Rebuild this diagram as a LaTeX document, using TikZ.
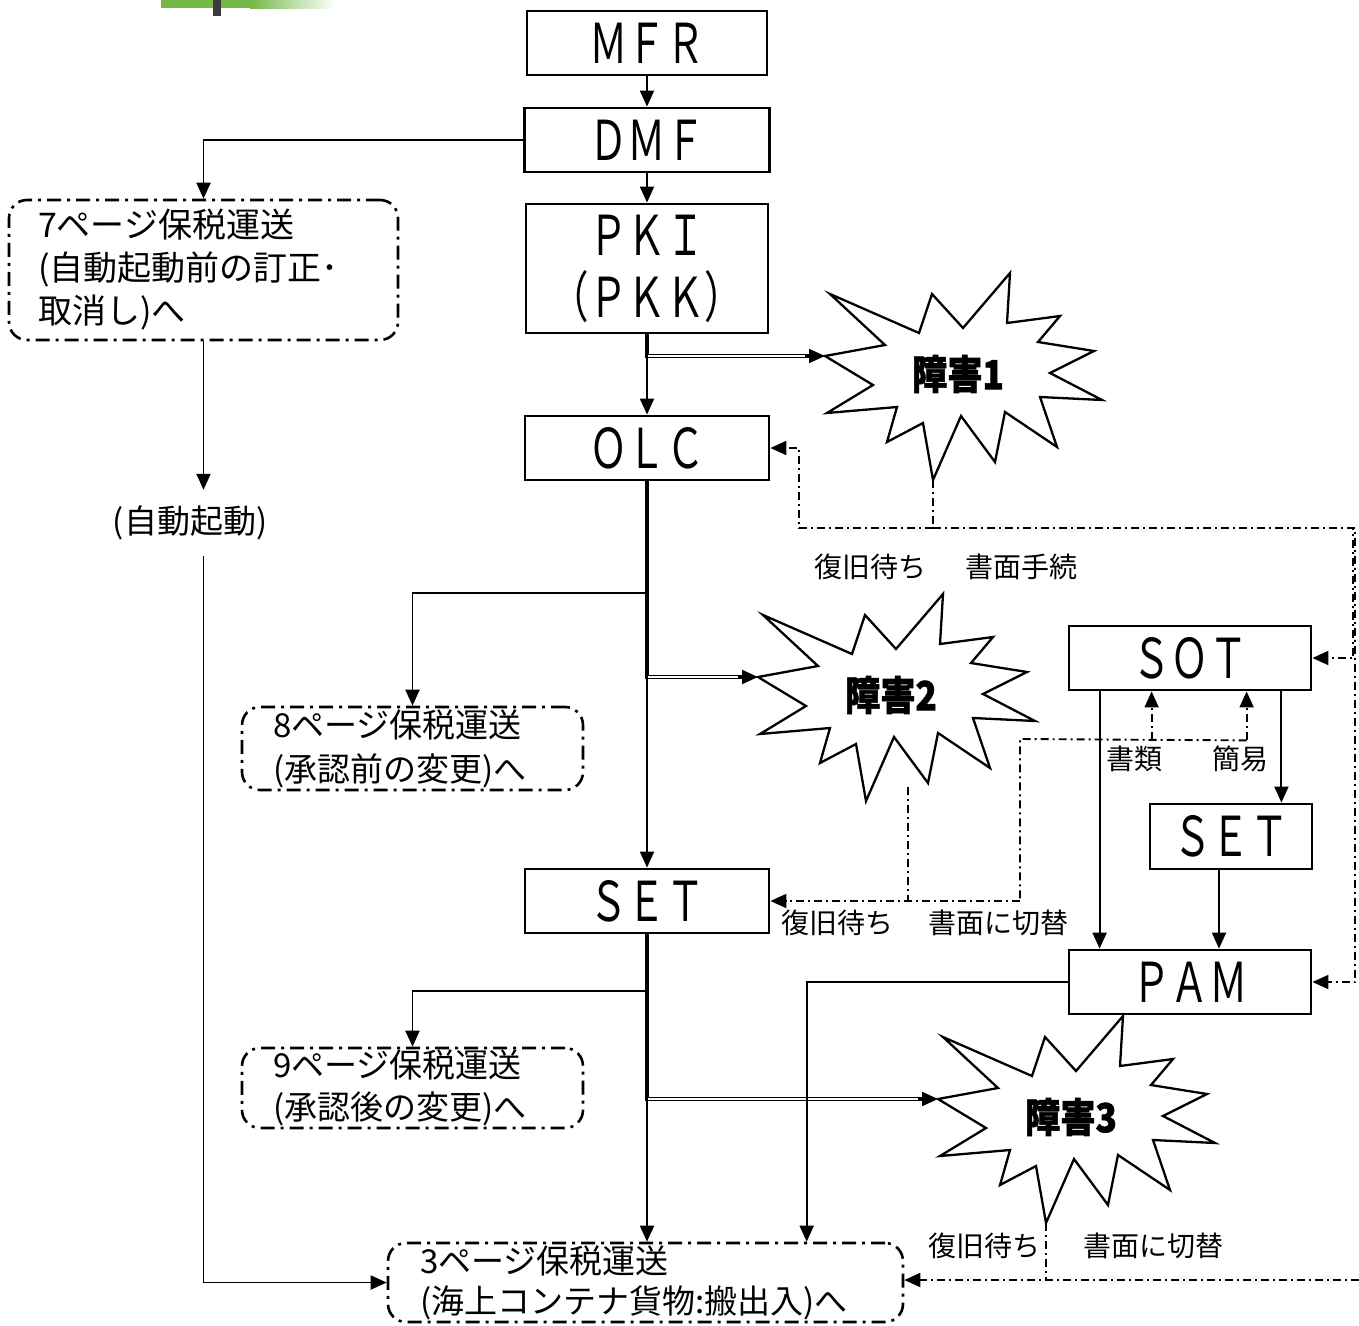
\documentclass[tikz,border=0pt]{standalone}
\usepackage{fontspec}
\setmainfont{Noto Sans CJK JP}
\newfontfamily\boxfont[FakeStretch=0.7]{Noto Sans CJK JP}
\newfontfamily\burstfont[FakeStretch=0.88,FakeBold=1.6]{Noto Sans CJK JP}
\usetikzlibrary{arrows.meta,calc}
\definecolor{bargreen}{RGB}{118,184,72}
\definecolor{bargray}{RGB}{60,60,60}
\tikzset{
 sysbox/.style={draw, line width=2.8pt, inner sep=0pt, align=center, font=\boxfont\fontsize{55}{62}\selectfont},
 pagebox/.style={draw, line width=2.6pt, rounded corners=18pt, dash pattern=on 14pt off 6pt on 3pt off 6pt, align=left, inner ysep=0pt},
 conn/.style={line width=1.9pt},
 arr/.style={-{Triangle[length=16pt,width=14pt]}},
 dd/.style={line width=1.9pt, dash pattern=on 8pt off 4pt on 2pt off 4pt},
 dbl/.style={double, double distance=1.8pt, line width=1.2pt},
 lbl/.style={inner sep=0pt, font=\fontsize{28}{30}\selectfont},
 burstline/.style={line width=2.3pt, fill=white, line join=miter},
 burstlbl/.style={inner sep=0pt, font=\burstfont\bfseries\fontsize{40}{44}\selectfont},
 pics/burst/.style={code={
   \draw[burstline] (0,0) -- (60,-11) -- (5,-62) -- (94,-23) -- (107,-62) -- (138,-28) -- (185,-83) -- (182,-33) -- (235,-40) -- (213,-14) -- (269,-5) -- (225,17) -- (277,44) -- (215,41) -- (232,91) -- (180,56) -- (170,106) -- (136,60) -- (108,124) -- (98,67) -- (62,86) -- (72,51) -- (2,57) -- (48,29) -- cycle;
   \coordinate (-tip) at (0,0);
   \coordinate (-bot) at (108,124);
   \node[burstlbl] (-lbl) at (133,18) {#1};
 }}
}
\begin{document}
\begin{tikzpicture}[x=1pt,y=-1pt]
\useasboundingbox (0,0) rectangle (1359,1325);
% top-left banner fragment
\fill[bargreen] (161,0) rectangle (250,8);
\shade[left color=bargreen, right color=white] (250,0) rectangle (335,8);
\fill[bargray] (213,0) rectangle (221,16);

% main boxes
\node[sysbox, minimum width=240pt, minimum height=64pt] (MFR) at (647,43) {ＭＦＲ};
\node[sysbox, minimum width=245pt, minimum height=64pt] (DMF) at (647,140) {ＤＭＦ};
\node[sysbox, minimum width=242pt, minimum height=129pt] (PKI) at (647,268.5) {ＰＫＩ\\（ＰＫＫ）};
\node[sysbox, minimum width=244pt, minimum height=64pt] (OLC) at (647,448) {ＯＬＣ};
\node[sysbox, minimum width=244pt, minimum height=64pt] (SETc) at (647,901) {ＳＥＴ};
\node[sysbox, minimum width=242pt, minimum height=64pt] (SOT) at (1190,658) {ＳＯＴ};
\node[sysbox, minimum width=162pt, minimum height=65pt] (SETr) at (1231,836.5) {ＳＥＴ};
\node[sysbox, minimum width=242pt, minimum height=64pt] (PAM) at (1190,982) {ＰＡＭ};

% page boxes
\node[pagebox, font=\fontsize{34}{43}\selectfont, text width=331pt, inner xsep=29pt, minimum height=140pt] (p7) at (203.5,270) {7ページ保税運送\\(自動起動前の訂正･\\取消し)へ};
\node[pagebox, font=\fontsize{33}{44}\selectfont, text width=279pt, inner xsep=31pt, minimum height=83pt] (p8) at (412.5,748.5) {\raisebox{-3pt}{8ページ保税運送}\\\raisebox{-3pt}{(承認前の変更)へ}};
\node[pagebox, font=\fontsize{33}{42}\selectfont, text width=279pt, inner xsep=31pt, minimum height=80pt] (p9) at (412.5,1088) {\raisebox{-3pt}{9ページ保税運送}\\\raisebox{-3pt}{(承認後の変更)へ}};
\node[pagebox, font=\fontsize{33}{40}\selectfont, text width=451pt, inner xsep=32pt, minimum height=79pt] (p3) at (645.5,1282.5) {\raisebox{-4pt}{3ページ保税運送}\\\raisebox{-4pt}{(海上コンテナ貨物:搬出入)へ}};

\node[inner sep=0pt, minimum height=66pt, font=\fontsize{33}{36}\selectfont] (auto) at (190,523) {(自動起動)};

% bursts
\pic (s1) at (825,356) {burst={障害1}};
\pic (s2) at (758,677) {burst={障害2}};
\pic (s3) at (938,1099) {burst={障害3}};

% labels
\node[lbl] (l1) at (870,567) {復旧待ち};
\node[lbl] (l2) at (1021,567) {書面手続};
\node[lbl] (l3) at (1134,759) {書類};
\node[lbl] (l4) at (1240,759) {簡易};
\node[lbl] (l5) at (837,923) {復旧待ち};
\node[lbl] (l6) at (998,923) {書面に切替};
\node[lbl] (l7) at (984,1246) {復旧待ち};
\node[lbl] (l8) at (1153,1246) {書面に切替};

% double lines to bursts
\draw[dbl] (PKI.south) |- ($(s1-tip)+(-12,0)$);
\draw[conn,arr] ($(s1-tip)+(-20,0)$) -- (s1-tip);
\draw[dbl] (OLC.south) |- ($(s2-tip)+(-12,0)$);
\draw[conn,arr] ($(s2-tip)+(-20,0)$) -- (s2-tip);
\draw[dbl] (SETc.south) |- ($(s3-tip)+(-12,0)$);
\draw[conn,arr] ($(s3-tip)+(-20,0)$) -- (s3-tip);

% solid connectors
\draw[conn,arr] (MFR) -- (DMF);
\draw[conn,arr] (DMF) -- (PKI);
\draw[conn,arr] (DMF.west) -| (p7.north);
\draw[conn,arr] (p7.south) -- (p7.south |- auto.north);
\draw[conn,arr] (p7.south |- auto.south) |- (p3.west);
\draw[conn,arr] (PKI) -- (OLC);
\draw[conn,arr] (OLC) -- (SETc);
\coordinate (b8) at (647,593);
\draw[conn,arr] (b8) -| (p8.north);
\draw[conn,arr] (SETc.south) -- (SETc.south |- p3.north);
\coordinate (b9) at (647,991);
\draw[conn,arr] (b9) -| (p9.north);
\coordinate (pamin) at ($(p3.north west)+(420,0)$);
\draw[conn,arr] (PAM.west) -| (pamin);
\coordinate (sotl) at ($(SOT.south west)+(32,0)$);
\draw[conn,arr] (sotl) -- (sotl |- PAM.north);
\coordinate (sotr) at ($(SOT.south east)+(-31,0)$);
\draw[conn,arr] (sotr) -- (sotr |- SETr.north);
\coordinate (setb) at ($(SETr.south)+(-12,0)$);
\draw[conn,arr] (setb) -- (setb |- PAM.north);

% dash-dot recovery lines
\coordinate (j1) at ($(s1-bot)+(0,48)$);
\draw[dd] (s1-bot) -- (j1);
\draw[dd,arr] (j1) -| ($(OLC.east)+(29,0)$) -- (OLC.east);
\draw[dd,arr] (j1) -| ($(SOT.east)+(41,0)$) -- (SOT.east);
\draw[dd,arr] (j1) -| ($(PAM.east)+(43,0)$) -- (PAM.east);

\coordinate (j2) at (908,787);
\coordinate (k0) at (1020,739);
\coordinate (k1) at ($(SOT.south west)+(84,49)$);
\coordinate (k2) at ($(SOT.south west)+(179,49)$);
\draw[dd] (j2) -- (j2 |- SETc.east);
\draw[dd] (k2) -- (k0) -- (k0 |- SETc.east);
\draw[dd,arr] (k0 |- SETc.east) -- (SETc.east);
\draw[dd,arr] (k1) -- (k1 |- SOT.south);
\draw[dd,arr] (k2) -- (k2 |- SOT.south);

\coordinate (j3) at ($(s3-bot)+(0,57)$);
\coordinate (r3) at (1359,1280);
\draw[dd] (s3-bot) -- (j3);
\draw[dd,arr] (r3) -- (r3 -| p3.east);
\end{tikzpicture}
\end{document}
